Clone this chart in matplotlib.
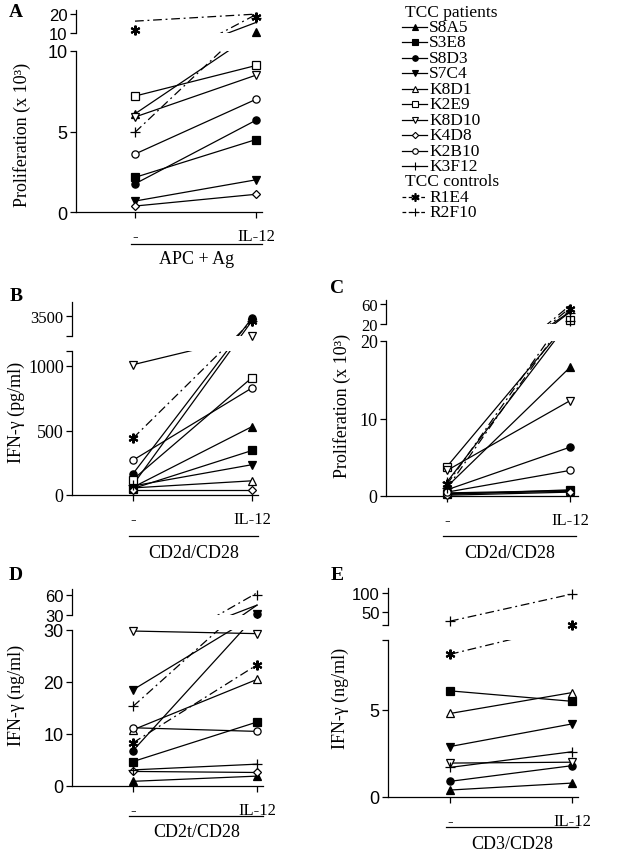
import numpy as np
import matplotlib
matplotlib.use('Agg')
import matplotlib.pyplot as plt
from matplotlib.transforms import blended_transform_factory

W, H = 638, 853
nan = np.nan
SERIF = 'Liberation Serif'
SANS = 'Liberation Sans'

clones = ['S8A5', 'S3E8', 'S8D3', 'S7C4', 'K8D1', 'K2E9', 'K8D10',
          'K4D8', 'K2B10', 'K3F12', 'R1E4', 'R2F10']
controls = ['R1E4', 'R2F10']
markers = ['^', 's', 'o', 'v', '^', 's', 'v', 'D', 'o', '+', (6, 2, 0), '+']
filled = [True, True, True, True, False, False, False, False, False, True, True, True]
conditions = ['-', 'IL-12']

# A: proliferation (x 10^3), APC + Ag
a_minus = [6.1, 2.15, 1.75, 0.68, nan, 7.2, 5.9, 0.37, 3.6, nan, 12, 4.95]
a_il12 = [10.5, 4.5, 5.7, 2.0, nan, 9.1, 8.5, 1.1, 7.0, nan, 20, 19.5]
# B: IFN-g (pg/ml), CD2d/CD28
b_minus = [60, 50, 165, 70, 55, 120, 1010, 40, 270, 80, 440, nan]
b_il12 = [530, 345, 3450, 235, 110, 910, 3000, 40, 830, 3380, 3375, nan]
# C: proliferation (x 10^3), CD2d/CD28
c_minus = [1.2, 0.2, 0.8, 0.3, 0.4, 3.8, 3.3, 0.1, 0.5, 1.8, 1.5, 1.0]
c_il12 = [16.6, 0.8, 6.3, 0.6, 0.7, 30, 12.3, 0.5, 3.3, 28, 55, 45]
# D: IFN-g (ng/ml), CD2t/CD28
d_minus = [0.9, 4.7, 6.8, 18.5, 10.8, nan, 29.8, 2.8, 11.2, 3.1, 8.3, 15.3]
d_il12 = [1.9, 12.3, 31, 31, 20.5, nan, 29.3, 2.6, 10.5, 4.2, 23.3, 65]
# E: IFN-g (ng/ml), CD3/CD28
e_minus = [0.4, 6.1, 0.9, 2.9, 4.8, nan, 1.95, nan, nan, 1.7, 8.2, 26]
e_il12 = [0.8, 5.5, 1.8, 4.2, 6.0, nan, 2.0, nan, nan, 2.6, 17, 97]

DASHDOT = (0, (7, 3, 1.5, 3))


def draw_panel(fig, lay, minus, il12):
    # pixel geometry of the broken axis -> heights above the x axis in px
    ppu = (lay['y0'] - lay['main_ref_px']) / lay['main_ref']
    main_max = (lay['y0'] - lay['main_top_px']) / ppu
    tppu = (lay['top_lo_px'] - lay['top_ref_px']) / (lay['top_ref'] - lay['top_lo'])

    def h(v):
        if v <= main_max + 1e-9:
            return v * ppu
        return (lay['y0'] - lay['top_lo_px']) + (v - lay['top_lo']) * tppu

    s = lay['x1'] - lay['x0']
    xlim = (-(lay['x0'] - lay['spine']) / s, 1 + (lay['right'] - lay['x1']) / s)
    left = lay['spine'] / W
    width = (lay['right'] - lay['spine']) / W
    ax = fig.add_axes([left, 1 - lay['y0'] / H, width, (lay['y0'] - lay['main_top_px']) / H])
    axt = fig.add_axes([left, 1 - lay['top_lo_px'] / H, width, (lay['top_lo_px'] - lay['top_end']) / H])
    ax.set_zorder(2)
    axt.set_zorder(1)
    for a in (ax, axt):
        a.patch.set_visible(False)
        a.set_xlim(xlim)
        for sp in ('top', 'right'):
            a.spines[sp].set_visible(False)
        a.spines['left'].set_linewidth(0.9)
    axt.spines['bottom'].set_visible(False)
    axt.set_xticks([])
    ax.spines['bottom'].set_linewidth(0.9)
    ax.set_ylim(0, lay['y0'] - lay['main_top_px'])
    axt.set_ylim(lay['y0'] - lay['top_lo_px'], lay['y0'] - lay['top_end'])

    for i, name in enumerate(clones):
        vals = [minus[i], il12[i]]
        if np.isnan(vals).any():
            continue
        yy = [h(v) for v in vals]
        ls = DASHDOT if name in controls else '-'
        for a in (ax, axt):
            a.plot([0, 1], yy, ls=ls, color='k', lw=0.9, zorder=2)
        ms = 4.2 if markers[i] == 'D' else (7 if markers[i] in ('+', (6, 2, 0)) else 5.2)
        mew = 1.5 if markers[i] == (6, 2, 0) else 0.9
        ax.plot([0, 1], yy, ls='none', marker=markers[i], ms=ms, mew=mew,
                mfc='k' if filled[i] else 'white', mec='k', clip_on=False, zorder=3)

    # y ticks
    mt = list(lay['main_ticks'])
    ml = [str(t) for t in mt]
    if all(abs(t - main_max) > 1e-6 * max(1, main_max) for t in mt):
        mt.append(main_max)
        ml.append('')
    ax.set_yticks([h(t) for t in mt], ml)
    axt.set_yticks([h(t) for t in lay['top_ticks']], lay['top_labels'])
    for a in (ax, axt):
        a.tick_params(axis='y', length=4.5, width=0.9, pad=1.5, labelsize=lay['tsize'])
        for lab in a.get_yticklabels():
            lab.set_fontfamily(lay['tfont'])
    axt.tick_params(axis='y', labelsize=lay['tsize'] - 1)

    ax.set_xticks([0, 1], conditions)
    ax.tick_params(axis='x', length=4.5, width=0.9, pad=7, labelsize=12)
    for lab in ax.get_xticklabels():
        lab.set_fontfamily(SERIF)

    tr = blended_transform_factory(ax.transData, fig.transFigure)
    ax.plot([-0.03, 1.05], [1 - lay['bracket'] / H] * 2, transform=tr,
            color='k', lw=0.9, clip_on=False)
    ax.text(0.51, 1 - lay['group_y'] / H, lay['group'], transform=tr,
            ha='center', va='center', fontsize=13, family=SERIF)
    return ax


fig = plt.figure(figsize=(W / 100, H / 100), dpi=100)

layouts = [
    dict(spine=76, x0=135, x1=256, right=262, y0=213, main_ref=10, main_ref_px=52,
         main_top_px=52, top_lo=10, top_lo_px=34, top_ref=20, top_ref_px=18.3, top_end=11,
         main_ticks=[0, 5, 10], top_ticks=[10, 20], top_labels=['10', '20'],
         tfont=SANS, tsize=13, bracket=245, group_y=260, group='APC + Ag'),
    dict(spine=72, x0=133, x1=252, right=258, y0=496, main_ref=1000, main_ref_px=367,
         main_top_px=352, top_lo=3000, top_lo_px=337, top_ref=3500, top_ref_px=317, top_end=303,
         main_ticks=[0, 500, 1000], top_ticks=[3000, 3500], top_labels=['', '3500'],
         tfont=SERIF, tsize=13, bracket=537, group_y=554, group='CD2d/CD28'),
    dict(spine=386, x0=447, x1=570, right=578, y0=497, main_ref=20, main_ref_px=342,
         main_top_px=342, top_lo=20, top_lo_px=325, top_ref=60, top_ref_px=308, top_end=301,
         main_ticks=[0, 10, 20], top_ticks=[20, 60], top_labels=['20', '60'],
         tfont=SERIF, tsize=13, bracket=537, group_y=553, group='CD2d/CD28'),
    dict(spine=72, x0=133, x1=257, right=263, y0=787, main_ref=30, main_ref_px=631,
         main_top_px=631, top_lo=30, top_lo_px=616, top_ref=60, top_ref_px=599, top_end=590,
         main_ticks=[0, 10, 20, 30], top_ticks=[30, 60], top_labels=['30', '60'],
         tfont=SANS, tsize=13, bracket=817, group_y=833, group='CD2t/CD28'),
    dict(spine=388, x0=450, x1=572, right=578, y0=798, main_ref=5, main_ref_px=711,
         main_top_px=641, top_lo=16, top_lo_px=626, top_ref=50, top_ref_px=613, top_end=589,
         main_ticks=[0, 5], top_ticks=[16, 50, 100], top_labels=['', '50', '100'],
         tfont=SANS, tsize=13, bracket=828, group_y=845, group='CD3/CD28'),
]
panel_data = [(a_minus, a_il12), (b_minus, b_il12), (c_minus, c_il12),
              (d_minus, d_il12), (e_minus, e_il12)]

for lay, (mn, il) in zip(layouts, panel_data):
    draw_panel(fig, lay, mn, il)

# overlay in pixel coordinates for labels and the legend
ov = fig.add_axes([0, 0, 1, 1])
ov.set_xlim(0, W)
ov.set_ylim(H, 0)
ov.axis('off')
ov.set_zorder(5)

for letter, (lx, ly) in zip('ABCDE', [(16, 12), (16, 296), (337, 288), (16, 575), (337, 575)]):
    ov.text(lx, ly, letter, ha='center', va='center', fontsize=14,
            fontweight='bold', family=SERIF)

ylabels = ['Proliferation (x 10³)', 'IFN-γ (pg/ml)', 'Proliferation (x 10³)',
           'IFN-γ (ng/ml)', 'IFN-γ (ng/ml)']
for txt, (lx, ly) in zip(ylabels, [(22, 135), (16, 412), (342, 406), (16, 695), (340, 698)]):
    ov.text(lx, ly, txt, rotation=90, ha='center', va='center', fontsize=13, family=SERIF)

# legend
row = 15.45
ov.text(405, 13, 'TCC patients', ha='left', va='center', fontsize=12.5, family=SERIF)
ov.text(405, 182, 'TCC controls', ha='left', va='center', fontsize=12.5, family=SERIF)
for i, name in enumerate(clones):
    yy = 28 + row * i if name not in controls else 198 + row * controls.index(name)
    ls = (0, (3, 2)) if name in controls else '-'
    ov.plot([402, 427], [yy, yy], ls=ls, color='k', lw=0.9)
    ms = 3.2 if markers[i] == 'D' else (6 if markers[i] in ('+', (6, 2, 0)) else 4)
    ov.plot([414.5], [yy], ls='none', marker=markers[i], ms=ms,
            mew=1.2 if markers[i] == (6, 2, 0) else 0.8,
            mfc='k' if filled[i] else 'white', mec='k')
    ov.text(429, yy, name, ha='left', va='center', fontsize=12.5, family=SERIF)

fig.savefig('out.png', dpi=100)
